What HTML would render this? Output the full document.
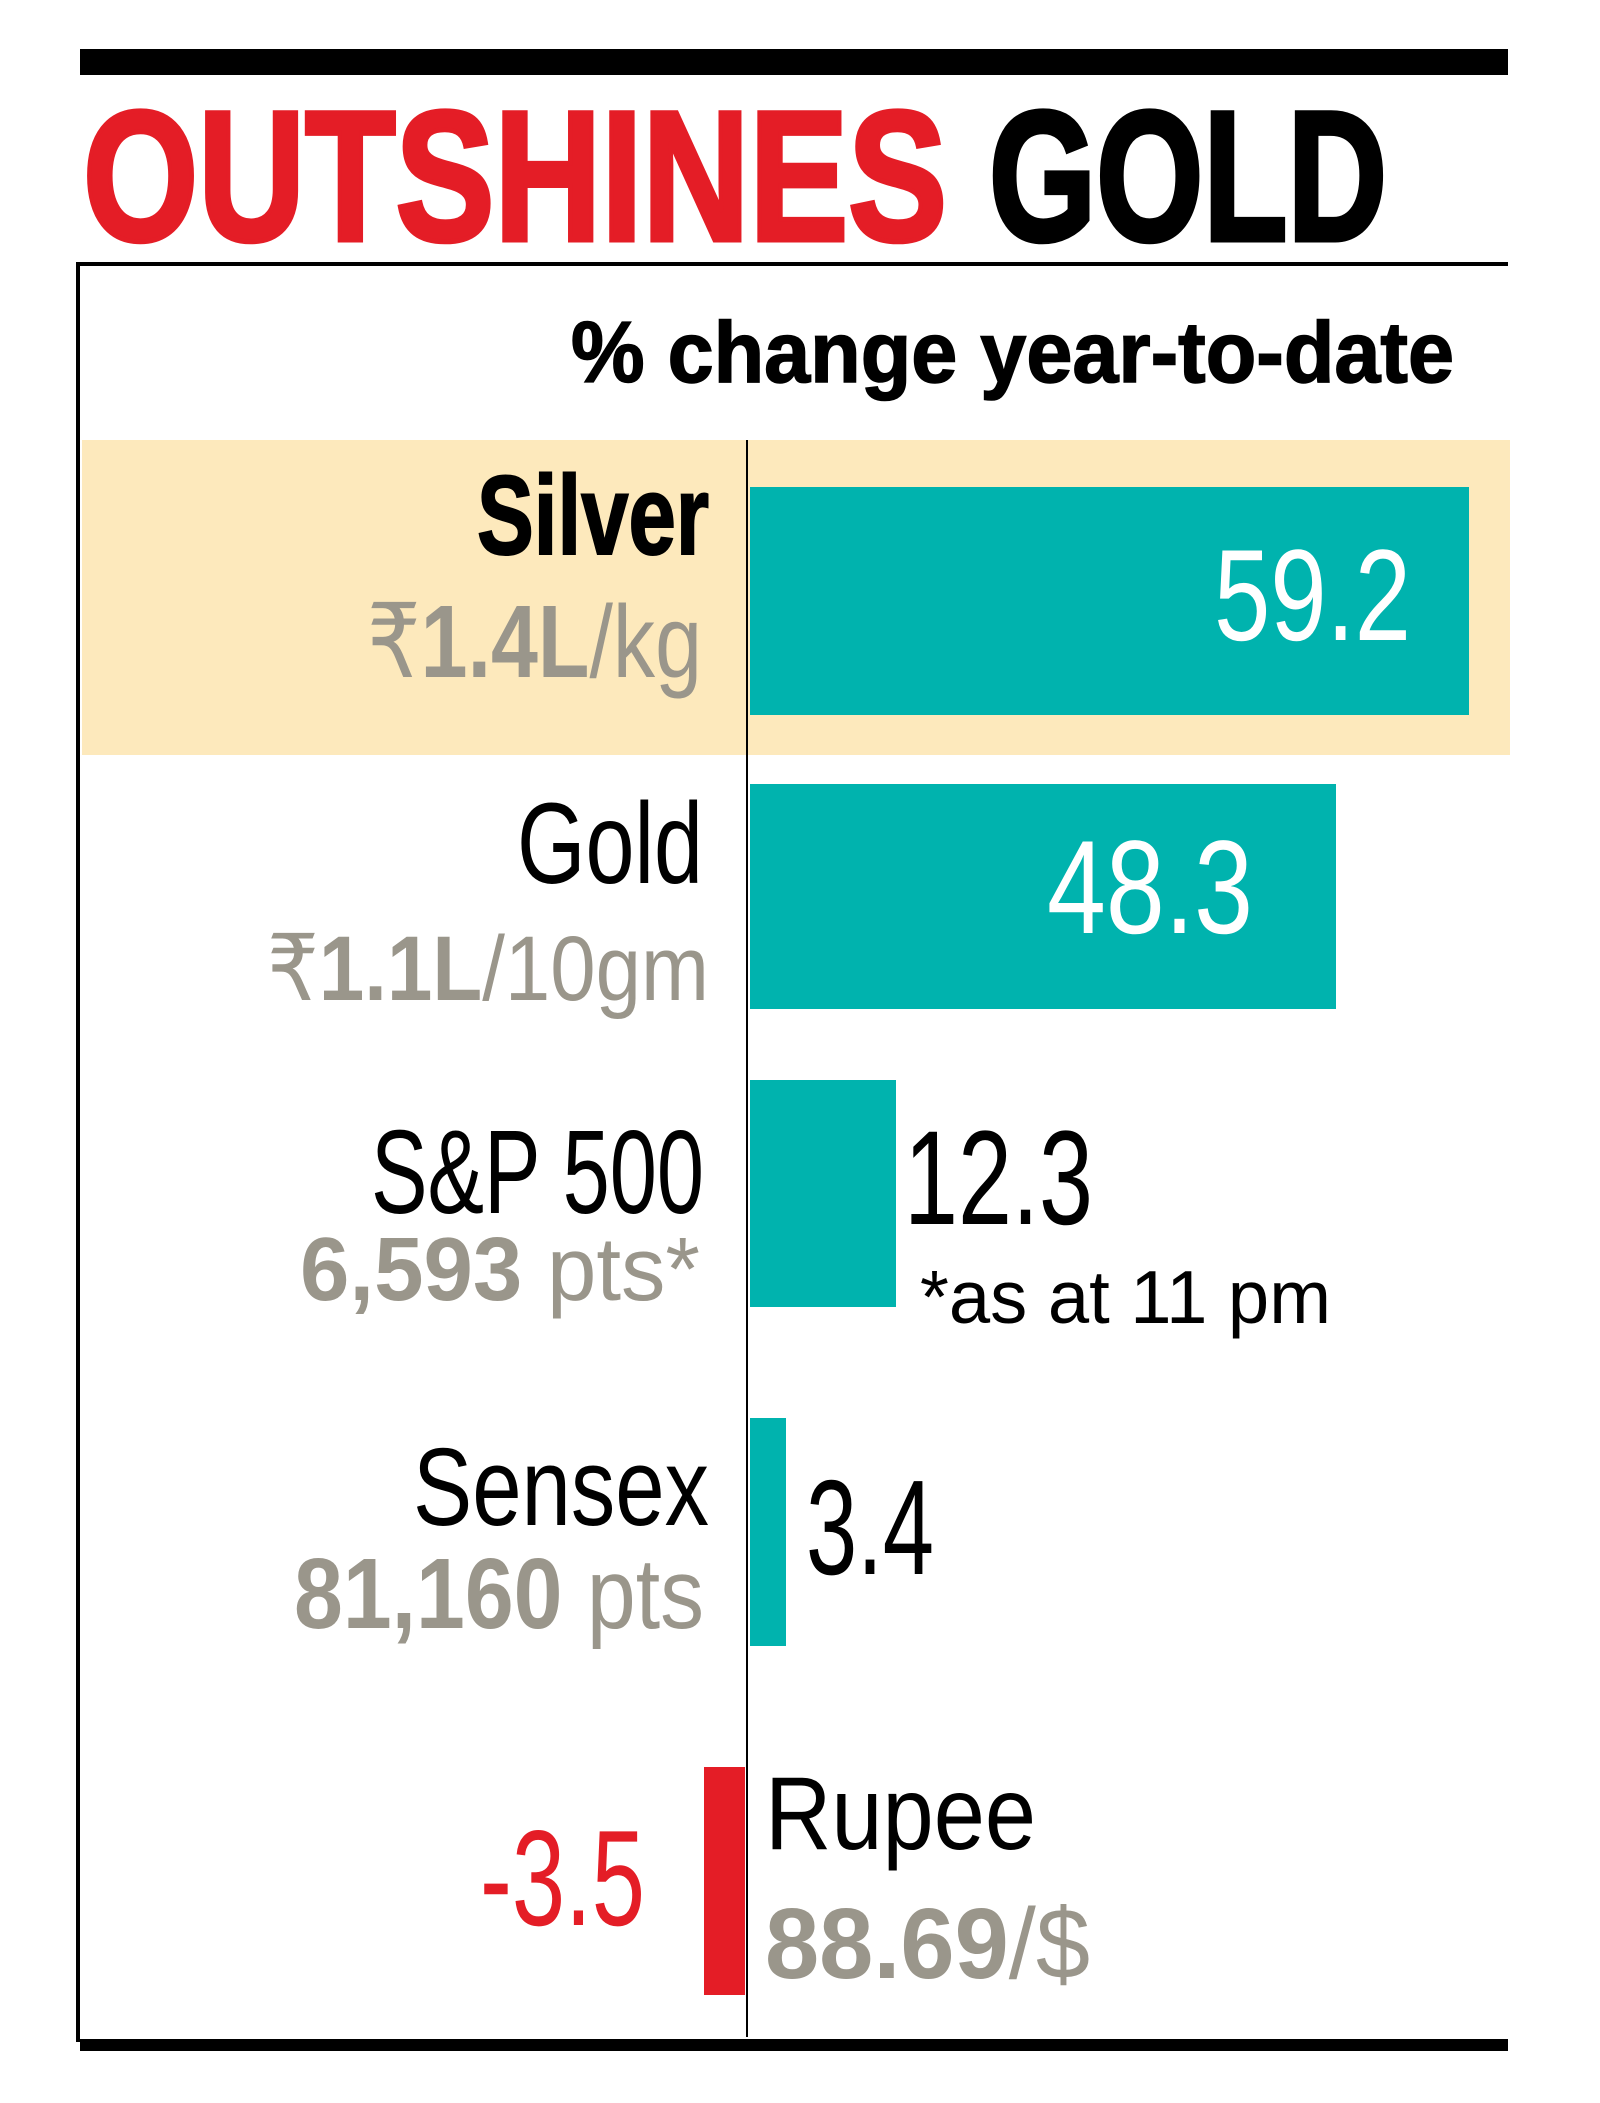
<!DOCTYPE html>
<html><head><meta charset="utf-8"><style>html,body{margin:0;padding:0;background:#fff}svg{display:block}</style></head>
<body>
<svg width="1600" height="2103" viewBox="0 0 1600 2103" xmlns="http://www.w3.org/2000/svg" font-family="Liberation Sans, sans-serif">
<rect width="1600" height="2103" fill="#fff"/>
<rect x="80" y="49" width="1428" height="26" fill="#000"/>
<text x="83" y="240" font-size="185" font-weight="bold" fill="#e41d26" stroke="#e41d26" stroke-width="5" textLength="864" lengthAdjust="spacingAndGlyphs">OUTSHINES</text>
<text x="989" y="240" font-size="185" font-weight="bold" fill="#000" stroke="#000" stroke-width="5" textLength="398" lengthAdjust="spacingAndGlyphs">GOLD</text>
<rect x="76" y="262" width="1432" height="4" fill="#000"/>
<rect x="76" y="262" width="4" height="1780" fill="#000"/>
<text x="571" y="382" font-size="86" font-weight="bold" fill="#000" stroke="#000" stroke-width="1.5" textLength="883" lengthAdjust="spacingAndGlyphs">% change year-to-date</text>
<rect x="82" y="440" width="1428" height="315" fill="#fde9bc"/>
<rect x="746" y="440" width="2" height="1597" fill="#000"/>
<rect x="750" y="487" width="719" height="228" fill="#00b3ae"/>
<rect x="750" y="784" width="586" height="225" fill="#00b3ae"/>
<rect x="750" y="1080" width="146" height="227" fill="#00b3ae"/>
<rect x="750" y="1418" width="36" height="228" fill="#00b3ae"/>
<rect x="704" y="1767" width="41" height="228" fill="#e41d26"/>
<rect x="80" y="2039" width="1428" height="12" fill="#000"/>
<g fill="#000">
<text x="477" y="554" font-size="112" font-weight="bold" stroke="#000" stroke-width="2" textLength="232" lengthAdjust="spacingAndGlyphs">Silver</text>
<text x="517" y="883" font-size="115" textLength="186" lengthAdjust="spacingAndGlyphs">Gold</text>
<text x="371" y="1213" font-size="119" textLength="333" lengthAdjust="spacingAndGlyphs">S&amp;P 500</text>
<text x="413" y="1525" font-size="110" textLength="296" lengthAdjust="spacingAndGlyphs">Sensex</text>
<text x="765" y="1849" font-size="104" textLength="271" lengthAdjust="spacingAndGlyphs">Rupee</text>
<text x="904" y="1224" font-size="134" textLength="189" lengthAdjust="spacingAndGlyphs">12.3</text>
<text x="920" y="1323" font-size="75" textLength="411" lengthAdjust="spacingAndGlyphs">*as at 11 pm</text>
<text x="806" y="1574" font-size="135" textLength="128" lengthAdjust="spacingAndGlyphs">3.4</text>
</g>
<g fill="#9a968b">
<text x="367" y="677" font-size="103" textLength="335" lengthAdjust="spacingAndGlyphs">₹<tspan font-weight="bold">1.4L</tspan>/kg</text>
<text x="267" y="1000" font-size="92" textLength="442" lengthAdjust="spacingAndGlyphs">₹<tspan font-weight="bold">1.1L</tspan>/10gm</text>
<text x="300" y="1300" font-size="90" textLength="400" lengthAdjust="spacingAndGlyphs"><tspan font-weight="bold">6,593</tspan> pts*</text>
<text x="294" y="1628" font-size="100" textLength="410" lengthAdjust="spacingAndGlyphs"><tspan font-weight="bold">81,160</tspan> pts</text>
<text x="765" y="1978" font-size="100" textLength="325" lengthAdjust="spacingAndGlyphs"><tspan font-weight="bold">88.69</tspan>/$</text>
</g>
<text x="1214" y="640" font-size="130" fill="#fff" textLength="197" lengthAdjust="spacingAndGlyphs">59.2</text>
<text x="1047" y="933" font-size="133" fill="#fff" textLength="206" lengthAdjust="spacingAndGlyphs">48.3</text>
<text x="480" y="1925" font-size="136" fill="#e41d26" textLength="165" lengthAdjust="spacingAndGlyphs">-3.5</text>
</svg>
</body></html>
